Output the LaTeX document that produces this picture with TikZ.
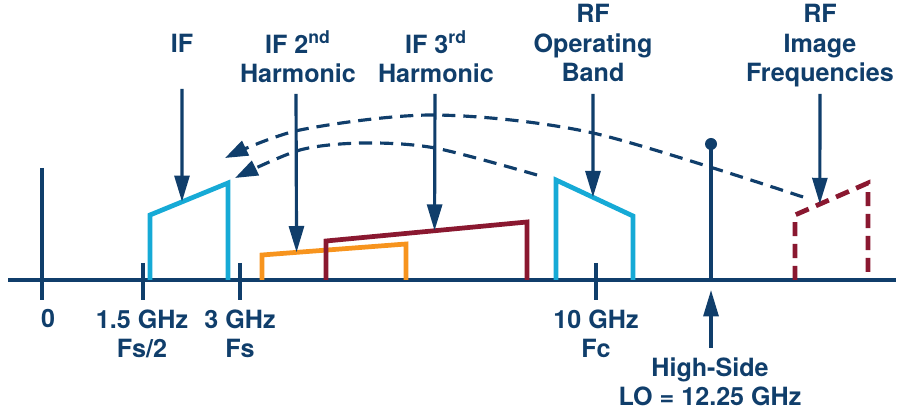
\documentclass[tikz,border=0pt]{standalone}
\usepackage{fontspec}
\setmainfont{TeX Gyre Heros}
\usetikzlibrary{arrows.meta}
\definecolor{adiblue}{RGB}{16,62,107}
\definecolor{ificyan}{RGB}{22,170,214}
\definecolor{iforange}{RGB}{247,148,30}
\definecolor{ifmaroon}{RGB}{138,24,48}

\tikzset{
    lbl/.style={font=\bfseries\fontsize{14.3}{17}\selectfont, text=adiblue, align=center, anchor=base, inner sep=0pt},
    axisline/.style={line width=2pt, color=adiblue},
    band/.style={line width=2.7pt},
    pointer/.style={line width=1.8pt, color=adiblue, -{Triangle[length=15pt,width=8.5pt]}},
    fold/.style={line width=1.8pt, color=adiblue, dash pattern=on 7.5pt off 4.5pt, -{Triangle[length=13pt,width=9pt]}},
}

\begin{document}
\begin{tikzpicture}[x=0.02cm, y=-0.02cm]
    \useasboundingbox (0,0) rectangle (906,411);

    % frequency axis and ticks
    \draw[axisline] (8,280) coordinate (ax1) -- (896,280) coordinate (ax2);
    \foreach \x/\t in {42/168, 143/263, 240/263, 596/263}
        \draw[axisline] (\x,\t) -- (\x,300);

    % bands
    \draw[band, ificyan] (150,280) -- (150,215) -- coordinate[pos=0.41] (ifHit) (228,183) -- (228,280);
    \draw[band, iforange] (262,280) -- (262,255) -- coordinate[pos=0.24] (h2Hit) (406,244) -- (406,280);
    \draw[band, ifmaroon] (326,280) -- (326,241) -- coordinate[pos=0.54] (h3Hit) (527,222) -- (527,280);
    \draw[band, ificyan] (556,280) -- (556,180) -- coordinate[pos=0.48] (rfHit) (633,216) -- (633,280);
    \draw[band, ifmaroon, dash pattern=on 8pt off 4.5pt] 
        (795,280) -- (795,215) -- coordinate[pos=0.34] (imHit) (868,183) -- (868,280);

    % local oscillator
    \draw[axisline] (711,280) -- (711,144) coordinate (loDot);
    \fill[adiblue] (loDot) circle[radius=6];

    % top labels (base = last line)
    \node[lbl] (iflbl) at (182,53) {IF};
    \node[lbl] (h2lbl) at (298,83) {IF 2\textsuperscript{nd}\\Harmonic};
    \node[lbl] (h3lbl) at (436,83) {IF 3\textsuperscript{rd}\\Harmonic};
    \node[lbl] (rflbl) at (593,82) {RF\\Operating\\Band};
    \node[lbl] (imlbl) at (820,82) {RF\\Image\\Frequencies};

    % bottom labels
    \node[lbl] (zerolbl) at (48,328) {0};
    \node[lbl] (halflbl) at (142,358) {1.5 GHz\\Fs/2};
    \node[lbl] (fslbl) at (240,358) {3 GHz\\Fs};
    \node[lbl] (fclbl) at (596,358) {10 GHz\\Fc};
    \node[lbl] (lolbl) at (710,406) {High-Side\\LO = 12.25 GHz};

    % pointers
    \coordinate (ifTop) at (182,89);
    \coordinate (h2Top) at (296,94);
    \coordinate (h3Top) at (435,94);
    \coordinate (rfTop) at (593,94);
    \coordinate (imTop) at (820,94);
    \coordinate (loFoot) at (711,348);
    \coordinate (loTip) at (711,290);
    \draw[pointer] (ifTop) -- (ifHit);
    \draw[pointer] (h2Top) -- (h2Hit);
    \draw[pointer] (h3Top) -- (h3Hit);
    \draw[pointer] (rfTop) -- (rfHit);
    \draw[pointer] (imTop) -- (imHit);
    \draw[pointer] (loFoot) -- (loTip);

    % images folding back
    \draw[fold] plot[smooth] coordinates {(803,197) (593,133) (435,115) (300,130) (225,158)};
    \draw[fold] plot[smooth] coordinates {(537,175) (435,148) (363,143) (300,150) (235,178)};
\end{tikzpicture}
\end{document}
